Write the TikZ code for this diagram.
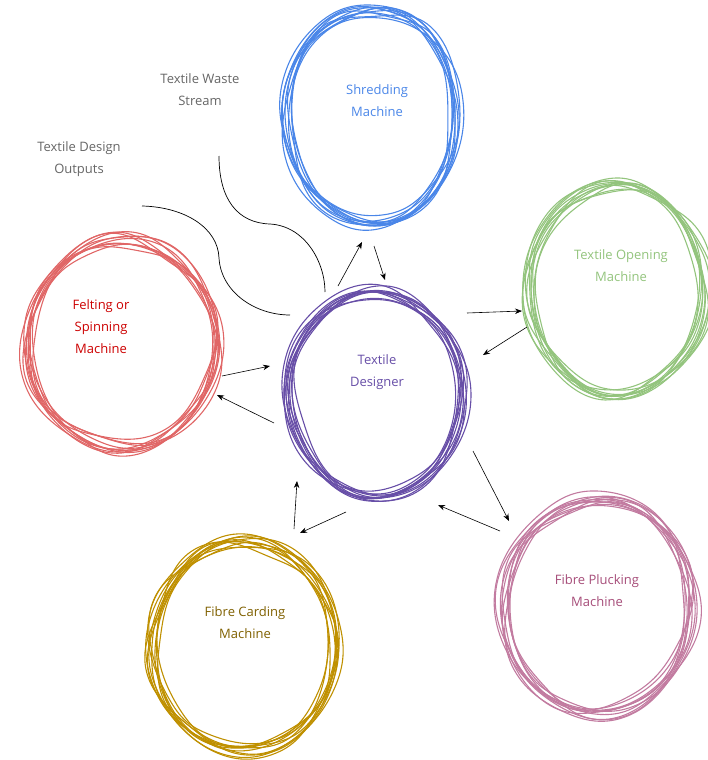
\documentclass[tikz,border=0pt]{standalone}
\usepackage{fontspec}
\setmainfont{Open Sans}
\usetikzlibrary{arrows.meta,calc}
\definecolor{cblue}{HTML}{4A86E8}
\definecolor{cgreen}{HTML}{93C47D}
\definecolor{cpurple}{HTML}{674EA7}
\definecolor{cred}{HTML}{E06666}
\definecolor{credtext}{HTML}{CC0000}
\definecolor{cpink}{HTML}{C27BA0}
\definecolor{cpinktext}{HTML}{A64D79}
\definecolor{cgold}{HTML}{BF9000}
\definecolor{cgoldtext}{HTML}{7F6000}
\definecolor{cgray}{HTML}{666666}
\tikzset{
  lbl/.style={align=center, font=\fontsize{13}{22}\selectfont, inner sep=1pt},
  conn/.style={-{Stealth[length=7pt,width=5.5pt]}, line width=0.6pt, black},
  curveline/.style={line width=0.7pt, black},
}
\newcommand\sketchring[6]{%
  \pgfmathsetseed{#6}%
  \foreach \k in {1,...,11}{%
    \pgfmathsetmacro\ox{#1+4*rand}%
    \pgfmathsetmacro\oy{#2+4*rand}%
    \pgfmathsetmacro\ph{360*rnd}%
    \draw[#5, line width=1.1pt] plot[smooth cycle, tension=0.7, variable=\t, samples at={0,40,...,320}]
      ({\ox+#3*(1+0.075*rand)*cos(\t+\ph)}, {\oy+#4*(1+0.075*rand)*sin(\t+\ph)});
  }%
}
\begin{document}
\begin{tikzpicture}[x=1pt,y=-1pt]
\useasboundingbox (0,0) rectangle (708,760);
\clip (0,0) rectangle (708,760);

% sketchy rings
\sketchring{372}{117}{86}{106}{cblue}{11}
\sketchring{617}{290}{88}{104}{cgreen}{23}
\sketchring{375}{393}{86}{102}{cpurple}{37}
\sketchring{122}{345}{94}{104}{cred}{41}
\sketchring{598}{606}{94}{106}{cpink}{53}
\sketchring{245}{645}{92}{104}{cgold}{67}

% labels
\node[lbl, text=cblue] (shred) at (377,101) {Shredding\\Machine};
\node[lbl, text=cgreen] (open) at (621,266) {Textile Opening\\Machine};
\node[lbl, text=cpurple] (des) at (377,372) {Textile\\Designer};
\node[lbl, text=credtext] (felt) at (101,327) {Felting or\\Spinning\\Machine};
\node[lbl, text=cpinktext] (pluck) at (597,591) {Fibre Plucking\\Machine};
\node[lbl, text=cgoldtext] (card) at (245,623) {Fibre Carding\\Machine};
\node[lbl, text=cgray] (waste) at (200,90) {Textile Waste\\Stream};
\node[lbl, text=cgray] (outs) at (79,159) {Textile Design\\Outputs};

% curve connectors
\coordinate (w0) at (219,156);
\coordinate (w1) at (325,292);
\draw[curveline] (w0) .. controls (219,200) and (238,223) .. (270,224)
  .. controls (305,226) and (325,262) .. (w1);
\coordinate (o0) at (142,206);
\coordinate (o1) at (290,315);
\draw[curveline] (o0) .. controls (185,207) and (218,228) .. (219,258)
  .. controls (221,292) and (255,315) .. (o1);

% arrows
\coordinate (a1s) at (338,286); \coordinate (a1e) at (362,242);
\coordinate (a2s) at (374,246); \coordinate (a2e) at (385,280);
\coordinate (a3s) at (467,313); \coordinate (a3e) at (522,311);
\coordinate (a4s) at (527,327); \coordinate (a4e) at (483,355);
\coordinate (a5s) at (473,451); \coordinate (a5e) at (509,521);
\coordinate (a6s) at (500,531); \coordinate (a6e) at (438,505);
\coordinate (a7s) at (346,512); \coordinate (a7e) at (300,533);
\coordinate (a8s) at (294,529); \coordinate (a8e) at (297,481);
\coordinate (a9s) at (274,423); \coordinate (a9e) at (217,395);
\coordinate (a10s) at (222,376); \coordinate (a10e) at (270,366);
\foreach \i in {1,...,10}{\draw[conn] (a\i s) -- (a\i e);}
\end{tikzpicture}
\end{document}
